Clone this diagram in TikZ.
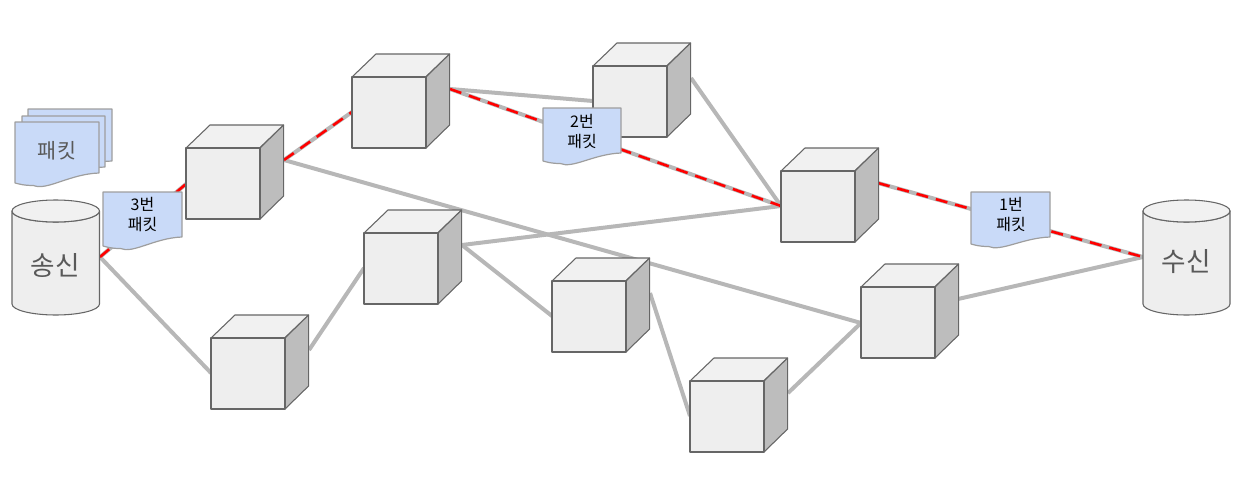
\documentclass[tikz,border=0pt]{standalone}
\usepackage{fontspec}
\setmainfont{Noto Sans CJK KR}
\definecolor{facefront}{HTML}{EEEEEE}
\definecolor{facetop}{HTML}{F1F1F1}
\definecolor{faceside}{HTML}{BDBDBD}
\definecolor{edgecol}{HTML}{666666}
\definecolor{linkgray}{HTML}{B7B7B7}
\definecolor{docfill}{HTML}{C9DAF8}
\definecolor{docedge}{HTML}{9E9E9E}
\definecolor{labelgray}{HTML}{595959}
\tikzset{
  x=0.75pt,y=-0.75pt,
  link/.style={draw=linkgray,line width=3pt},
  route/.style={draw=red,line width=1.95pt,dash pattern=on 9pt off 6pt},
  cubeedge/.style={draw=edgecol,line width=0.8pt,line join=round},
  cubefront/.style={cubeedge,fill=facefront,rectangle,minimum width=55.5pt,minimum height=53.25pt,inner sep=0pt,outer sep=0pt,anchor=north west},
  docshape/.style={draw=docedge,fill=docfill,line width=0.9pt,line join=round},
  doctext/.style={inner sep=0pt,align=center,font=\fontsize{12pt}{14.4pt}\selectfont,text=black},
  bigtext/.style={inner sep=0pt,font=\fontsize{20pt}{24pt}\selectfont,text=labelgray},
  stacktext/.style={inner sep=0pt,font=\fontsize{15.5pt}{18pt}\selectfont,text=labelgray}
}
% cube: name, x of front-left, y of front-top (pixels)
\newcommand{\mycube}[3]{%
  \draw[cubeedge,fill=facetop] (#2,#3) -- ++(24,-23) -- ++(73.6,0) -- ++(-24,23) -- cycle;
  \draw[cubeedge,fill=faceside] (#2+74,#3) -- ++(23.6,-23) -- ++(0,71) -- ++(-23.6,23) -- cycle;
  \node[cubefront] (#1) at (#2,#3) {};
}
% document: x1,x2,ytop,yright,yleft
\newcommand{\mydoc}[5]{%
  \draw[docshape] (#1,#3) -- (#2,#3) -- (#2,#4)
    .. controls (#1*0.35+#2*0.65,#4+1) and (#1*0.62+#2*0.38,#5+8) .. (#1*0.78+#2*0.22,#5+2.5)
    .. controls (#1*0.9+#2*0.1,#5+2.5) and (#1*0.95+#2*0.05,#5+1) .. (#1,#5) -- cycle;
}
% cylinder: x1,x2,ytop,ybottom
\newcommand{\mycyl}[4]{%
  \draw[cubeedge,fill=facefront] (#1,#3+11) arc[start angle=180,end angle=360,x radius={(#2-#1)/2*0.75pt},y radius=8.25pt] -- (#2,#4-11)
    arc[start angle=0,end angle=-180,x radius={(#2-#1)/2*0.75pt},y radius=8.25pt] -- cycle;
  \draw[cubeedge,fill=facetop] ({(#1+#2)/2},#3+11) ellipse[x radius={(#2-#1)/2*0.75pt},y radius=8.25pt];
}
\begin{document}
\begin{tikzpicture}
\useasboundingbox (0,0) rectangle (1242,496);
% connection points
\coordinate (snd) at (100,257);
\coordinate (rcv) at (1143,257);
\coordinate (aL) at (186,184); \coordinate (aR) at (284,160);
\coordinate (bL) at (352,112); \coordinate (bR) at (450,89);
\coordinate (cL) at (593,101); \coordinate (cR) at (691,78);
\coordinate (dL) at (781,206); \coordinate (dR) at (878,183);
\coordinate (eL) at (364,268); \coordinate (eR) at (462,245);
\coordinate (fL) at (211,373); \coordinate (fR) at (309,350);
\coordinate (gL) at (552,316); \coordinate (gR) at (650,293);
\coordinate (hL) at (690,416); \coordinate (hR) at (788,393);
\coordinate (iL) at (861,323); \coordinate (iR) at (958,299);
% gray links
\draw[link] (snd) -- (aL);
\draw[link] (aR) -- (bL);
\draw[link] (bR) -- (cL);
\draw[link] (bR) -- (dL);
\draw[link] (cR) -- (dL);
\draw[link] (dR) -- (rcv);
\draw[link] (snd) -- (fL);
\draw[link] (fR) -- (eL);
\draw[link] (eR) -- (dL);
\draw[link] (eR) -- (gL);
\draw[link] (gR) -- (hL);
\draw[link] (aR) -- (iL);
\draw[link] (hR) -- (iL);
\draw[link] (iR) -- (rcv);
% red route
\draw[route] (snd) -- (aL);
\draw[route] (aR) -- (bL);
\draw[route] (bR) -- (dL);
\draw[route] (dR) -- (rcv);
% cubes
\mycube{a}{186}{148}
\mycube{b}{352}{77}
\mycube{c}{593}{66}
\mycube{d}{781}{171}
\mycube{e}{364}{233}
\mycube{f}{211}{338}
\mycube{g}{552}{281}
\mycube{h}{690}{381}
\mycube{i}{861}{287}
% cylinders
\mycyl{12}{99.5}{200}{315}
\node[bigtext] (sender) at (55.5,265) {송신};
\mycyl{1143}{1230}{200}{315}
\node[bigtext] (receiver) at (1186,262) {수신};
% packet stack
\mydoc{28}{112}{109}{161}{166}
\mydoc{22}{105}{116}{167}{172}
\mydoc{15}{99}{122}{173}{183}
\node[stacktext] (stack) at (57,151) {패킷};
% packets
\mydoc{103}{182}{192}{237}{246}
\node[doctext] (p3) at (142.5,214.5) {3번\\패킷};
\mydoc{543}{621}{108}{153}{161}
\node[doctext] (p2) at (582,131.5) {2번\\패킷};
\mydoc{971}{1050}{192}{237}{244}
\node[doctext] (p1) at (1011,214.5) {1번\\패킷};
\end{tikzpicture}
\end{document}
